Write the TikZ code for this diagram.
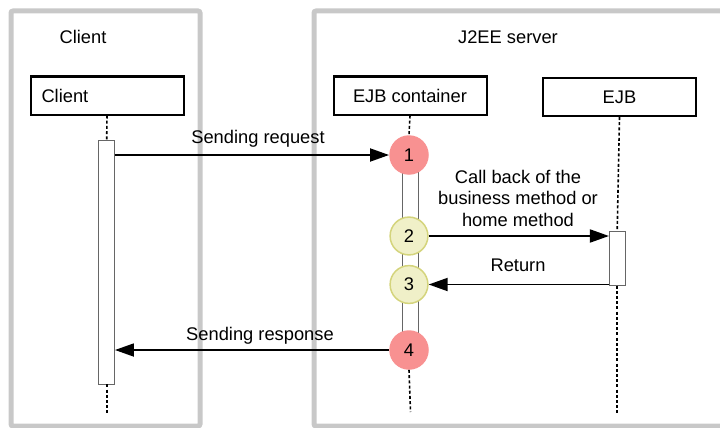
\documentclass[tikz,border=0pt]{standalone}
\usepackage{fontspec}
\setmainfont{Liberation Sans}
\usepackage{tikz}
\usetikzlibrary{positioning,arrows.meta,calc}
\definecolor{framegray}{HTML}{C8C8C8}
\definecolor{stepred}{HTML}{F89191}
\definecolor{stepyel}{HTML}{F0F0C8}
\definecolor{stepyeldraw}{HTML}{D4D47C}
\tikzset{
  frame/.style  ={draw=framegray, line width=5pt, rounded corners=2pt},
  obj/.style    ={draw, rectangle, line width=2pt, minimum width=153pt, minimum height=38pt, inner sep=0pt, align=center},
  act/.style    ={draw=gray!80!black, rectangle, line width=0.9pt, fill=white, minimum width=15.6pt, inner sep=0pt},
  redstep/.style={circle, fill=stepred, minimum size=39.5pt, inner sep=0pt},
  yelstep/.style={circle, fill=stepyel, draw=stepyeldraw, line width=1.5pt, minimum size=37.8pt, inner sep=0pt},
  life/.style   ={line width=1.6pt, dash pattern=on 3pt off 2.2pt},
  msg/.style    ={-{Triangle[length=19pt, width=13pt]}, line width=1.8pt},
  lbl/.style    ={anchor=base, align=center},
}

\begin{document}
\begin{tikzpicture}[x=1pt, y=-1pt, font=\fontsize{18.3}{21.5}\selectfont]
  \useasboundingbox (0,0) rectangle (720,428);
  \begin{scope}
    \clip (0,0) rectangle (720,428);
    \draw[frame] (11,11) rectangle (200,426);
    \draw[frame] (314,11) rectangle (740,426);
  \end{scope}

  \node[lbl] (tclient) at (83,44) {Client};
  \node[lbl] (tserver) at (508,44) {J2EE server};

  \node[obj, text width=131pt, inner xsep=11pt, align=left] (client) at (107,95.5) {Client};
  \node[obj] (cont) at (410,95.5) {EJB container};
  \node[obj, right=54.5pt of cont, yshift=-1.5pt] (ejb) {EJB};

  \node[act, minimum height=244pt] (cbar) at (106.7,262) {};
  \node[act, minimum height=195pt] (kbar) at (410.2,252.5) {};
  \node[act, minimum height=54pt]  (ebar) at (617.2,258.2) {};

  \node[redstep] (s1) at (409,155) {1};
  \node[yelstep] (s2) at (409,236) {2};
  \node[yelstep] (s3) at (409,284.5) {3};
  \node[redstep] (s4) at (409,350) {4};

  \coordinate (cend) at (106.7,414);
  \coordinate (kend) at (410.5,412);
  \coordinate (eend) at (617.2,415);

  \draw[life] (client.south) -- (cbar.north);
  \draw[life] (cbar.south) -- (cend);
  \draw[life] (cont.south) -- (s1.north);
  \draw[life] (s4.south) -- (kend);
  \draw[life] (ejb.south) -- (ebar.north);
  \draw[life] (ebar.south) -- (eend);

  \draw[msg] (s1.west -| cbar.east) -- (s1.west);
  \draw[msg] (s2.east) -- (s2.east -| ebar.west);
  \draw[msg] (s3.east -| ebar.west) -- (s3.east);
  \draw[msg] (s4.west) -- (s4.west -| cbar.east);

  % base of a multi-line node sits on its last line
  \node[lbl] (lreq)  at (258,143)   {Sending request};
  \node[lbl] (lcall) at (518,226)   {Call back of the\\business method or\\home method};
  \node[lbl] (lret)  at (518,271)   {Return};
  \node[lbl] (lres)  at (260,340)   {Sending response};
\end{tikzpicture}
\end{document}
